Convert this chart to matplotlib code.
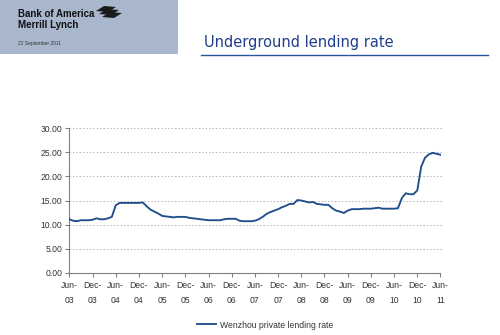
import matplotlib
matplotlib.use("Agg")
import matplotlib.pyplot as plt
from matplotlib.patches import Rectangle, Polygon
from matplotlib.lines import Line2D
import numpy as np

# ---- data (monthly, Jun-03 .. Jun-11) ----
rates = [11.1, 10.8, 10.7, 10.9, 10.9, 10.9, 11.0, 11.3, 11.1, 11.1, 11.3, 11.6,
         14.0, 14.5, 14.5, 14.5, 14.5, 14.5, 14.5, 14.6, 13.8, 13.1, 12.7, 12.3,
         11.8, 11.7, 11.6, 11.5, 11.6, 11.6, 11.6, 11.4, 11.3, 11.2, 11.1, 11.0,
         10.9, 10.9, 10.9, 10.9, 11.1, 11.2, 11.2, 11.2, 10.8, 10.7, 10.7, 10.7,
         10.8, 11.1, 11.6, 12.2, 12.6, 12.9, 13.2, 13.6, 13.9, 14.3, 14.3, 15.1,
         15.0, 14.8, 14.6, 14.7, 14.3, 14.2, 14.1, 14.1, 13.4, 12.9, 12.7, 12.4,
         12.9, 13.2, 13.2, 13.2, 13.3, 13.3, 13.3, 13.4, 13.5, 13.3, 13.3, 13.3,
         13.3, 13.4, 15.5, 16.5, 16.3, 16.3, 17.1, 22.0, 23.9, 24.6, 24.9, 24.7,
         24.5]
tick_labels = ["Jun-\n03", "Dec-\n03", "Jun-\n04", "Dec-\n04", "Jun-\n05", "Dec-\n05",
               "Jun-\n06", "Dec-\n06", "Jun-\n07", "Dec-\n07", "Jun-\n08", "Dec-\n08",
               "Jun-\n09", "Dec-\n09", "Jun-\n10", "Dec-\n10", "Jun-\n11"]
y_ticks = [0, 5, 10, 15, 20, 25, 30]
series_name = "Wenzhou private lending rate"
title = "Underground lending rate"

W, H = 500, 335
fig = plt.figure(figsize=(W / 100, H / 100), dpi=100)
fig.patch.set_facecolor("white")

def fx(px):
    return px / W

def fy(py):
    return 1 - py / H

# header band
fig.patches.append(Rectangle((0, fy(54)), fx(178), 54 / H, transform=fig.transFigure,
                             facecolor="#A9B7CD", edgecolor="none", zorder=0))
fig.text(fx(18), fy(14), "Bank of America", fontsize=7, fontweight="bold",
         family="Liberation Sans", color="#111111", va="center", ha="left")
fig.text(fx(18), fy(25), "Merrill Lynch", fontsize=7, fontweight="bold",
         family="Liberation Sans", color="#111111", va="center", ha="left")
fig.text(fx(18), fy(44), "22 September 2011", fontsize=3.5,
         family="Liberation Sans", color="#333333", va="center", ha="left")
# simple flag logo
for i in range(3):
    off = i * 3.0
    pts = [(fx(96 + off), fy(11 + off)), (fx(104 + off), fy(6 + off)),
           (fx(116 + off), fy(7 + off)), (fx(108 + off), fy(12 + off))]
    fig.patches.append(Polygon(pts, closed=True, transform=fig.transFigure,
                               facecolor="#1a1a1a", edgecolor="none"))

# title
fig.text(fx(204), fy(42), title, fontsize=10.5, family="DejaVu Sans",
         color="#1F3F8A", va="center", ha="left")
fig.lines.append(Line2D([fx(201), fx(488)], [fy(54.5), fy(54.5)],
                        transform=fig.transFigure, color="#2B55A0", lw=1.0))

# plot axes
ax = fig.add_axes([fx(69.3), fy(272.7), fx(440.5) - fx(69.3), (272.7 - 128.3) / H])
x = np.arange(len(rates))
ax.plot(x, rates, color="#1F4E8C", lw=1.35, label=series_name, zorder=3)
ax.set_xlim(0, len(rates) - 1)
ax.set_ylim(0, 30)
ax.set_yticks(y_ticks)
ax.set_yticklabels([f"{v:.2f}" for v in y_ticks])
ax.set_xticks(np.arange(0, len(rates), 6))
ax.set_xticklabels(tick_labels, linespacing=1.8)
for v in y_ticks[1:]:
    ax.plot([0, len(rates) - 0.5], [v, v], color="#B5B5B5", lw=0.7,
            ls=(0, (1.5, 2)), zorder=1, clip_on=False)
for s in ["top", "right"]:
    ax.spines[s].set_visible(False)
for s in ["left", "bottom"]:
    ax.spines[s].set_color("#808080")
    ax.spines[s].set_linewidth(0.8)
ax.tick_params(axis="both", colors="#808080", labelcolor="#333333", labelsize=6.2,
               length=3, width=0.8)
ax.tick_params(axis="x", pad=3)
ax.tick_params(axis="y", pad=2)
for lab in ax.get_xticklabels() + ax.get_yticklabels():
    lab.set_family("Liberation Sans")

handle = Line2D([], [], color="#1F4E8C", lw=1.35)
leg = fig.legend([handle], [series_name], loc="center", bbox_to_anchor=(fx(265), fy(325)),
                 frameon=False, prop={"family": "Liberation Sans", "size": 6.2},
                 handlelength=2.2, handletextpad=0.4)
for t in leg.get_texts():
    t.set_color("#333333")

fig.savefig("out.png", dpi=100, facecolor="white")
